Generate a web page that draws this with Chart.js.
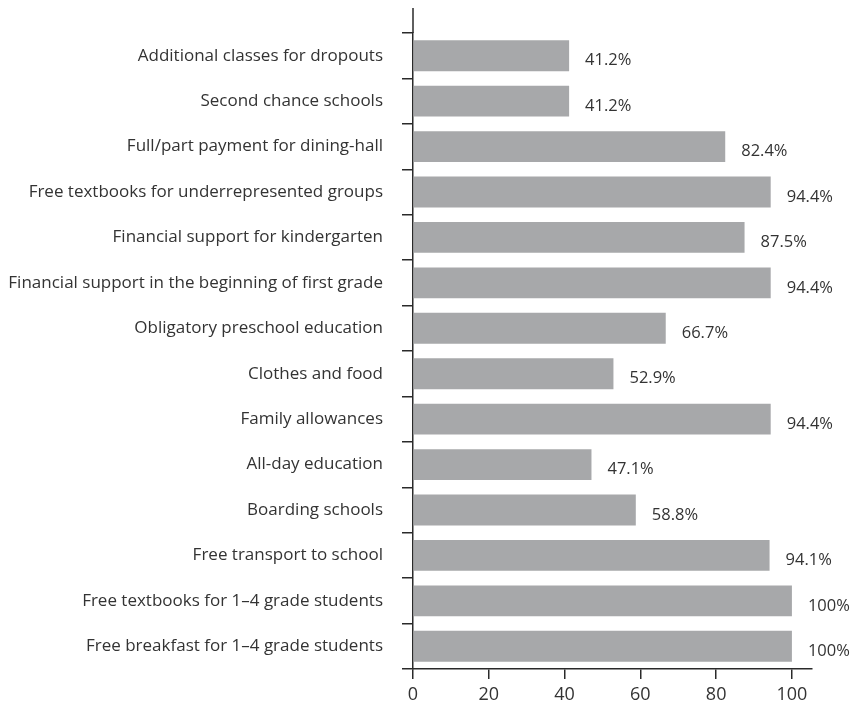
<!DOCTYPE html>
<html>
<head>
<meta charset="utf-8">
<script src="https://cdn.jsdelivr.net/npm/chart.js@4"></script>
<style>
  html, body { margin: 0; padding: 0; background: #ffffff; }
  #wrap { width: 854px; height: 704px; position: relative; }
</style>
</head>
<body>
<div id="wrap"><canvas id="c" width="854" height="704"></canvas></div>
<script>
const categories = [
  "Additional classes for dropouts",
  "Second chance schools",
  "Full/part payment for dining-hall",
  "Free textbooks for underrepresented groups",
  "Financial support for kindergarten",
  "Financial support in the beginning of first grade",
  "Obligatory preschool education",
  "Clothes and food",
  "Family allowances",
  "All-day education",
  "Boarding schools",
  "Free transport to school",
  "Free textbooks for 1\u20134 grade students",
  "Free breakfast for 1\u20134 grade students"
];
const values = [41.2, 41.2, 82.4, 94.4, 87.5, 94.4, 66.7, 52.9, 94.4, 47.1, 58.8, 94.1, 100, 100];
const valueLabels = ["41.2%", "41.2%", "82.4%", "94.4%", "87.5%", "94.4%", "66.7%", "52.9%", "94.4%", "47.1%", "58.8%", "94.1%", "100%", "100%"];
const xTicks = [0, 20, 40, 60, 80, 100];

const AXIS_COLOR = '#2a2a2a';
const TEXT_COLOR = '#333333';
const FONT = '"Open Sans"';

const valueLabelPlugin = {
  id: 'valueLabels',
  afterDatasetsDraw(chart) {
    const ctx = chart.ctx;
    const meta = chart.getDatasetMeta(0);
    ctx.save();
    ctx.font = '16.5px ' + FONT;
    ctx.fillStyle = TEXT_COLOR;
    ctx.textAlign = 'left';
    ctx.textBaseline = 'middle';
    meta.data.forEach((bar, i) => {
      ctx.fillText(valueLabels[i], bar.x + 16, bar.y + 5);
    });
    ctx.restore();
  }
};

const axisExtension = {
  id: 'axisExtension',
  afterDraw(chart) {
    const ctx = chart.ctx;
    const area = chart.chartArea;
    ctx.save();
    ctx.strokeStyle = AXIS_COLOR;
    ctx.lineWidth = 1.5;
    ctx.beginPath();
    ctx.moveTo(area.left, area.top - 25);
    ctx.lineTo(area.left, area.top);
    ctx.stroke();
    ctx.restore();
  }
};

new Chart(document.getElementById('c'), {
  type: 'bar',
  data: {
    labels: categories,
    datasets: [{
      data: values,
      backgroundColor: '#a7a8aa',
      borderWidth: 0,
      categoryPercentage: 0.68,
      barPercentage: 1.0
    }]
  },
  options: {
    indexAxis: 'y',
    responsive: false,
    animation: false,
    devicePixelRatio: 1,
    layout: { padding: { top: 33, right: 42, bottom: 0, left: 0 } },
    plugins: {
      legend: { display: false },
      tooltip: { enabled: false }
    },
    scales: {
      x: {
        type: 'linear',
        min: 0,
        max: 105.3,
        afterBuildTicks(scale) {
          scale.ticks = xTicks.map(v => ({ value: v }));
        },
        grid: {
          drawOnChartArea: false,
          drawTicks: true,
          tickLength: 10,
          color: AXIS_COLOR,
          lineWidth: 1.5
        },
        border: { display: true, color: AXIS_COLOR, width: 1.5 },
        ticks: {
          color: TEXT_COLOR,
          font: { family: FONT, size: 18 },
          padding: 5,
          maxRotation: 0,
          callback: (v) => String(v)
        },
        afterFit(scale) { scale.height = 35; }
      },
      y: {
        type: 'category',
        grid: {
          offset: true,
          drawOnChartArea: false,
          drawTicks: true,
          tickLength: 11,
          color: AXIS_COLOR,
          lineWidth: 1.5
        },
        border: { display: true, color: AXIS_COLOR, width: 1.5 },
        ticks: {
          color: TEXT_COLOR,
          font: { family: FONT, size: 17 },
          padding: 19,
          autoSkip: false
        },
        afterFit(scale) { scale.width = 413; }
      }
    }
  },
  plugins: [valueLabelPlugin, axisExtension]
});
</script>
</body>
</html>
